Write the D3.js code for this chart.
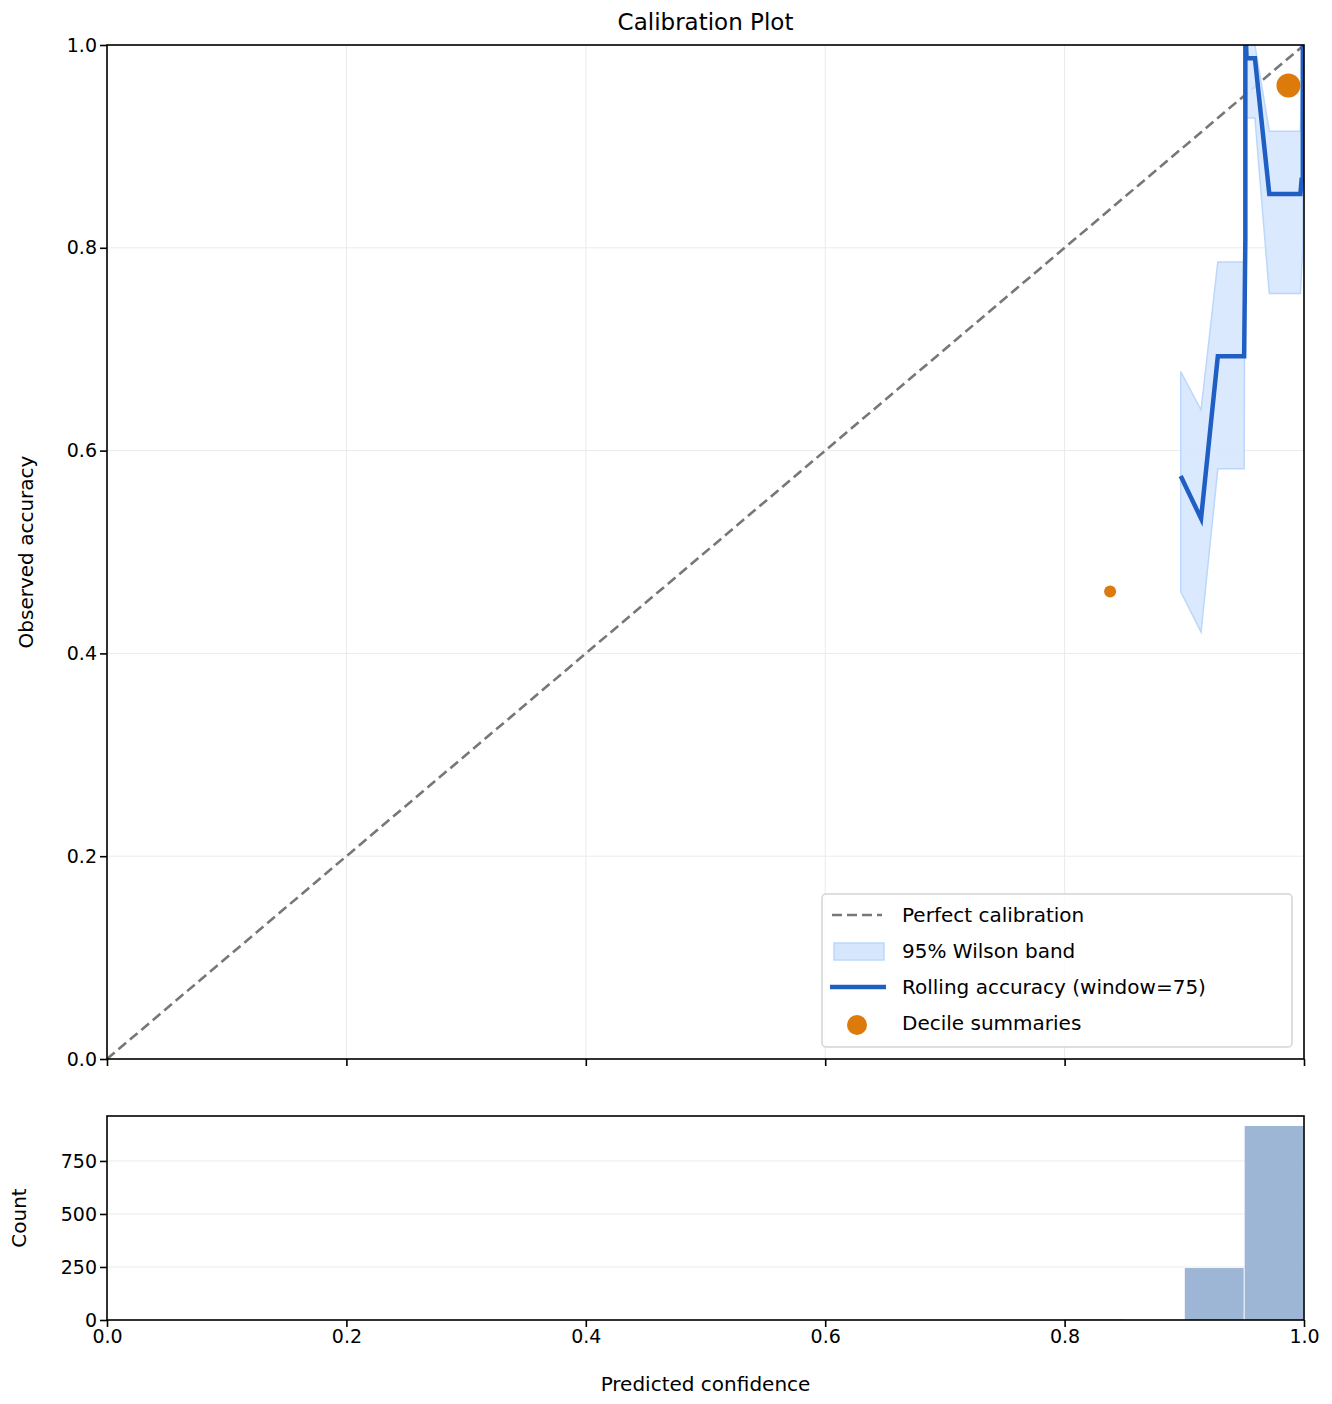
<!DOCTYPE html>
<html>
<head>
<meta charset="utf-8">
<script src="https://d3js.org/d3.v7.min.js"></script>
<style>
  body { margin: 0; background: #fff; }
  text { font-family: "DejaVu Sans", sans-serif; fill: #000; }
</style>
</head>
<body>
<svg id="chart"></svg>
<script>
// rolling accuracy curve (x = predicted confidence, y = accuracy)
var rollX = [0.897, 0.914, 0.928, 0.950, 0.951, 0.951, 0.952, 0.959, 0.971, 0.997, 0.998, 0.999, 0.999];
var rollY = [0.575, 0.533, 0.693, 0.693, 0.81, 1.02, 0.987, 0.987, 0.853, 0.853, 0.867, 0.867, 1.02];
// Wilson band
var bandX = [0.897, 0.914, 0.928, 0.950, 0.951, 0.959, 0.971, 0.997, 0.999];
var bandLo = [0.461, 0.421, 0.582, 0.582, 0.928, 0.928, 0.755, 0.755, 0.80];
var bandHi = [0.678, 0.640, 0.786, 0.786, 1.0, 1.0, 0.915, 0.915, 1.0];
// decile summaries
var decX = [0.838, 0.987];
var decY = [0.461, 0.960];
var decR = [6, 12];
// histogram
var binStart = [0.80, 0.90, 0.95];
var binCount = [3, 245, 915];
var ticks = [0, 0.2, 0.4, 0.6, 0.8, 1.0];
var histTicks = [0, 250, 500, 750];

var W = 1332, H = 1404;
var svg = d3.select("#chart").attr("width", W).attr("height", H);
var L = 107, R = 1304, T = 45, B = 1059, hT = 1116, hB = 1320;
var x = d3.scaleLinear().domain([0, 1]).range([L, R]);
var y = d3.scaleLinear().domain([0, 1]).range([B, T]);
var yh = d3.scaleLinear().domain([0, 962]).range([hB, hT]);

svg.append("defs").append("clipPath").attr("id", "clip")
  .append("rect").attr("x", L).attr("y", T).attr("width", R - L).attr("height", B - T);

// grids
var g = svg.append("g");
ticks.forEach(function(t) {
  g.append("line").attr("x1", x(t)).attr("x2", x(t)).attr("y1", T).attr("y2", B).attr("stroke", "#ebebeb");
  g.append("line").attr("x1", L).attr("x2", R).attr("y1", y(t)).attr("y2", y(t)).attr("stroke", "#ebebeb");
});
histTicks.forEach(function(t) {
  g.append("line").attr("x1", L).attr("x2", R).attr("y1", yh(t)).attr("y2", yh(t)).attr("stroke", "#ebebeb");
});

var plot = svg.append("g").attr("clip-path", "url(#clip)");
// diagonal
plot.append("line").attr("x1", x(0)).attr("y1", y(0)).attr("x2", x(1)).attr("y2", y(1))
  .attr("stroke", "#777").attr("stroke-width", 2.6).attr("stroke-dasharray", "10,5");
// band
var area = d3.area().x(function(d, i) { return x(bandX[i]); })
  .y0(function(d, i) { return y(bandLo[i]); }).y1(function(d, i) { return y(bandHi[i]); });
plot.append("path").attr("d", area(bandX)).attr("fill", "#d6e7fd").attr("fill-opacity", 0.9)
  .attr("stroke", "#bcd7fb").attr("stroke-width", 1.5);
// rolling line
var line = d3.line().x(function(d, i) { return x(rollX[i]); }).y(function(d, i) { return y(rollY[i]); });
plot.append("path").attr("d", line(rollX)).attr("fill", "none").attr("stroke", "#1f5fc4").attr("stroke-width", 4.5);
// decile points
svg.selectAll(".dec").data(decX).enter().append("circle")
  .attr("cx", function(d) { return x(d); }).attr("cy", function(d, i) { return y(decY[i]); })
  .attr("r", function(d, i) { return decR[i]; }).attr("fill", "#dd7a0c");

// histogram bars
svg.selectAll(".bar").data(binStart).enter().append("rect")
  .attr("x", function(d) { return x(d) + 0.5; })
  .attr("width", function(d) { return x(d + 0.05) - x(d) - 1; })
  .attr("y", function(d, i) { return yh(binCount[i]); })
  .attr("height", function(d, i) { return hB - yh(binCount[i]); })
  .attr("fill", "#9db6d6");

// axes
svg.append("g").attr("transform", "translate(0," + B + ")")
  .call(d3.axisBottom(x).tickValues(ticks).tickSize(7).tickFormat(""));
svg.append("g").attr("transform", "translate(" + L + ",0)")
  .call(d3.axisLeft(y).tickValues(ticks).tickSize(7).tickFormat(d3.format(".1f")));
svg.append("g").attr("transform", "translate(0," + hB + ")")
  .call(d3.axisBottom(x).tickValues(ticks).tickSize(7).tickFormat(d3.format(".1f")));
svg.append("g").attr("transform", "translate(" + L + ",0)")
  .call(d3.axisLeft(yh).tickValues(histTicks).tickSize(7));
svg.selectAll(".tick text").style("font-size", "19px").style("font-family", "DejaVu Sans");
svg.selectAll(".domain").remove();
svg.selectAll(".tick line").attr("stroke-width", 1.6);

// frames
[[T, B], [hT, hB]].forEach(function(p) {
  svg.append("rect").attr("x", L).attr("y", p[0]).attr("width", R - L).attr("height", p[1] - p[0])
    .attr("fill", "none").attr("stroke", "#000").attr("stroke-width", 1.6);
});

// titles
svg.append("text").attr("x", (L + R) / 2).attr("y", 30).attr("text-anchor", "middle").style("font-size", "23px").text("Calibration Plot");
svg.append("text").attr("x", (L + R) / 2).attr("y", 1391).attr("text-anchor", "middle").style("font-size", "20px").text("Predicted confidence");
svg.append("text").attr("transform", "translate(33," + ((T + B) / 2) + ") rotate(-90)").attr("text-anchor", "middle").style("font-size", "20px").text("Observed accuracy");
svg.append("text").attr("transform", "translate(26," + ((hT + hB) / 2) + ") rotate(-90)").attr("text-anchor", "middle").style("font-size", "20px").text("Count");

// legend
var lg = svg.append("g").attr("transform", "translate(822,894)");
lg.append("rect").attr("width", 470).attr("height", 153).attr("rx", 4).attr("fill", "#fff").attr("fill-opacity", 0.85)
  .attr("stroke", "#d4d4d4").attr("stroke-width", 1.5);
var items = ["Perfect calibration", "95% Wilson band", "Rolling accuracy (window=75)", "Decile summaries"];
items.forEach(function(s, i) {
  var yy = 21 + i * 36;
  lg.append("text").attr("x", 80).attr("y", yy + 7).style("font-size", "20px").text(s);
});
lg.append("line").attr("x1", 10).attr("x2", 60).attr("y1", 21).attr("y2", 21).attr("stroke", "#777").attr("stroke-width", 2.6).attr("stroke-dasharray", "10,5");
lg.append("rect").attr("x", 12).attr("y", 49).attr("width", 50).attr("height", 17).attr("fill", "#d6e7fd").attr("stroke", "#bcd7fb").attr("stroke-width", 1.5);
lg.append("line").attr("x1", 8).attr("x2", 64).attr("y1", 93).attr("y2", 93).attr("stroke", "#1f5fc4").attr("stroke-width", 4.5);
lg.append("circle").attr("cx", 35).attr("cy", 131).attr("r", 10).attr("fill", "#dd7a0c");
</script>
</body>
</html>
